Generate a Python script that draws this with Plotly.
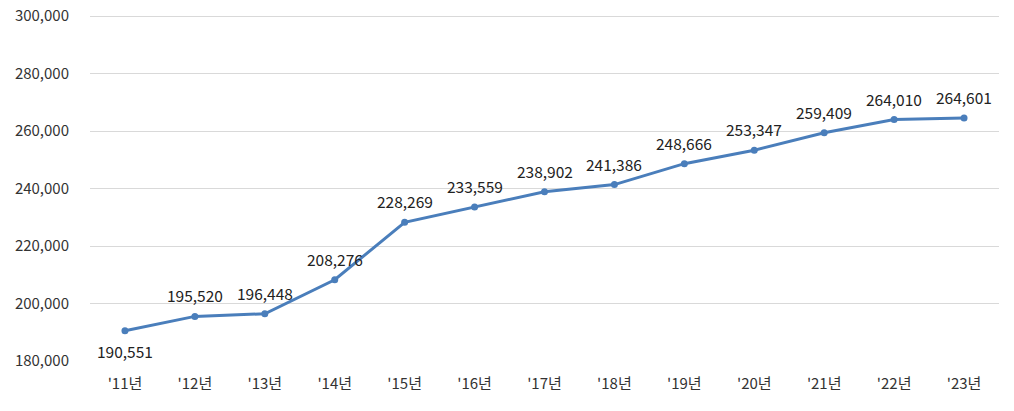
import plotly.graph_objects as go

years = ["'11년", "'12년", "'13년", "'14년", "'15년", "'16년", "'17년", "'18년", "'19년", "'20년", "'21년", "'22년", "'23년"]
values = [190551, 195520, 196448, 208276, 228269, 233559, 238902, 241386, 248666, 253347, 259409, 264010, 264601]
y_ticks = [180000, 200000, 220000, 240000, 260000, 280000, 300000]

FONT = "Noto Sans CJK KR, Noto Sans, sans-serif"
LINE = "#4a7ebb"

fig = go.Figure()
fig.add_trace(go.Scatter(
    x=years, y=values, mode="lines+markers",
    line=dict(color=LINE, width=3),
    marker=dict(color=LINE, size=7),
    hoverinfo="x+y",
))

annotations = []
for i, (x, v) in enumerate(zip(years, values)):
    below = i == 0
    annotations.append(dict(
        x=x, y=v, xref="x", yref="y", text=f"{v:,}", showarrow=False,
        yshift=-20 if below else 21,
        font=dict(family=FONT, size=15.5, color="#222222"),
    ))

fig.update_layout(
    width=1014, height=411,
    margin=dict(l=90, r=15, t=15, b=50),
    paper_bgcolor="white", plot_bgcolor="white",
    showlegend=False,
    annotations=annotations,
    font=dict(family=FONT, size=14, color="#404040"),
)
fig.update_xaxes(
    type="category", range=[-0.5, 12.5],
    showgrid=False, showline=False, zeroline=False,
    ticks="", ticklabelstandoff=12, automargin=False,
    tickfont=dict(family=FONT, size=15, color="#333333"),
)
fig.update_yaxes(
    range=[180000, 300400], tickvals=y_ticks,
    ticktext=[f"{t:,}" for t in y_ticks],
    showgrid=True, gridcolor="#d9d9d9", gridwidth=1,
    zeroline=False, showline=False, ticks="",
    ticklabelstandoff=20, automargin=False,
    tickfont=dict(family=FONT, size=15, color="#333333"),
)

fig.write_html("out.html", config={"displayModeBar": False},
               post_script="document.body.style.margin='0';")
